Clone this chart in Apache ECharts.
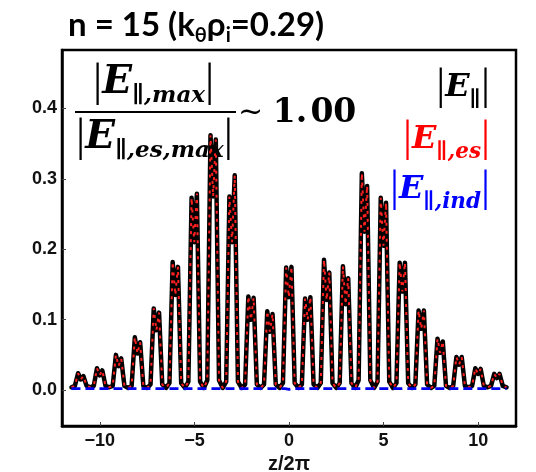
<!DOCTYPE html>
<html><head><meta charset="utf-8">
<script src="https://cdn.jsdelivr.net/npm/echarts@6/dist/echarts.min.js"></script>
<style>html,body{margin:0;padding:0;background:#fff}#c{width:536px;height:472px}</style>
</head><body><div id="c"></div>
<script>
// z/2π sample positions
const zs = [
 -11.5,-11.32,-11.15,-11.01,-10.87,-10.70,
 -10.5,-10.32,-10.15,-10.01,-9.87,-9.70,
 -9.5,-9.32,-9.15,-9.01,-8.87,-8.70,
 -8.5,-8.32,-8.15,-8.01,-7.87,-7.70,
 -7.5,-7.32,-7.15,-7.01,-6.87,-6.70,
 -6.5,-6.32,-6.15,-6.01,-5.87,-5.70,
 -5.5,-5.32,-5.15,-5.01,-4.87,-4.70,
 -4.5,-4.32,-4.15,-4.01,-3.87,-3.70,
 -3.5,-3.32,-3.15,-3.01,-2.87,-2.70,
 -2.5,-2.32,-2.15,-2.01,-1.87,-1.70,
 -1.5,-1.32,-1.15,-1.01,-0.87,-0.70,
 -0.5,-0.32,-0.15,-0.01,0.13,0.30,
 0.5,0.68,0.85,0.99,1.13,1.30,
 1.5,1.68,1.85,1.99,2.13,2.30,
 2.5,2.68,2.85,2.99,3.13,3.30,
 3.5,3.68,3.85,3.99,4.13,4.30,
 4.5,4.68,4.85,4.99,5.13,5.30,
 5.5,5.68,5.85,5.99,6.13,6.30,
 6.5,6.68,6.85,6.99,7.13,7.30,
 7.5,7.68,7.85,7.99,8.13,8.30,
 8.5,8.68,8.85,8.99,9.13,9.30,
 9.5,9.68,9.85,9.99,10.13,10.30,
 10.5,10.68,10.85,10.99,11.13,11.30,
 11.5
];
// |E_par|
const eTotal = [
 0.004,0.006,0.024,0.015,0.020,0.006,
 0.004,0.006,0.031,0.021,0.028,0.006,
 0.004,0.006,0.050,0.034,0.045,0.006,
 0.003,0.006,0.075,0.052,0.068,0.006,
 0.003,0.008,0.116,0.085,0.110,0.008,
 0.003,0.010,0.182,0.135,0.175,0.010,
 0.003,0.012,0.273,0.210,0.279,0.012,
 0.003,0.014,0.362,0.275,0.356,0.014,
 0.003,0.012,0.275,0.210,0.305,0.012,
 0.003,0.008,0.133,0.100,0.131,0.008,
 0.003,0.008,0.112,0.083,0.108,0.008,
 0.003,0.010,0.174,0.132,0.175,0.010,
 0.003,0.008,0.130,0.100,0.132,0.008,
 0.003,0.010,0.185,0.128,0.167,0.010,
 0.003,0.010,0.176,0.122,0.159,0.010,
 0.003,0.014,0.308,0.225,0.290,0.014,
 0.003,0.012,0.273,0.205,0.266,0.012,
 0.003,0.010,0.181,0.140,0.181,0.010,
 0.003,0.008,0.113,0.087,0.113,0.008,
 0.003,0.006,0.073,0.053,0.069,0.006,
 0.003,0.006,0.047,0.036,0.047,0.006,
 0.004,0.006,0.031,0.023,0.030,0.006,
 0.004,0.006,0.023,0.017,0.023,0.006,
 0.004
];
// |E_par,es| coincides with |E_par| (ratio ~ 1.00)
const eEs = eTotal;
// |E_par,ind| stays at ~0
const zInd = [-11.5, -0.2, 0, 0.2, 11.5];
const eInd = [0.002, 0.002, 0.001, 0.002, 0.002];

const xTicks = [-10, -5, 0, 5, 10];
const yTicks = [0, 0.1, 0.2, 0.3, 0.4];

const chart = echarts.init(document.getElementById('c'));
const SER = '"DejaVu Serif"';
const bar = {fontFamily:'"Liberation Serif"', fontSize:46, lineHeight:50, fill:'#000'};
const bigE = {fontFamily:SER, fontStyle:'italic', fontWeight:'bold', fontSize:39, lineHeight:50, fill:'#000'};
const subE = {fontFamily:SER, fontStyle:'italic', fontWeight:'bold', fontSize:23, lineHeight:28, verticalAlign:'bottom', fill:'#000'};
const lbar = {fontFamily:'"Liberation Serif"', fontSize:45, lineHeight:48};
const legE = {fontFamily:SER, fontStyle:'italic', fontWeight:'bold', fontSize:32, lineHeight:48};
const legS = {fontFamily:SER, fontStyle:'italic', fontWeight:'bold', fontSize:21.5, lineHeight:27, verticalAlign:'bottom'};
function legRich(c){
  return {b:Object.assign({}, lbar, {fill:c}), E:Object.assign({}, legE, {fill:c}), s:Object.assign({}, legS, {fill:c})};
}
const pair = (xs, ys) => xs.map((x, i) => [x, ys[i]]);

chart.setOption({
  animation: false,
  backgroundColor: '#fff',
  grid: {left: 62, right: 20, top: 50, bottom: 46, containLabel: false, outerBoundsMode: 'none',
         show: true, borderColor: '#000', borderWidth: 2.5, backgroundColor: 'transparent'},
  xAxis: {
    type: 'value', min: -12, max: 12,
    name: 'z/2π', nameLocation: 'middle', nameGap: 28,
    nameTextStyle: {fontFamily: '"Liberation Sans"', fontWeight: 'bold', fontSize: 20, color: '#111'},
    axisLine: {show: true, onZero: false, lineStyle: {color: '#000', width: 2.5}},
    axisTick: {show: true, inside: true, length: 4, lineStyle: {color: '#444', width: 1}, customValues: xTicks},
    axisLabel: {customValues: xTicks, margin: 6, fontFamily: '"Liberation Sans"', fontWeight: 'bold', fontSize: 18, color: '#111',
      formatter: v => v < 0 ? '\u2212' + Math.abs(v) : String(v)},
    splitLine: {show: false}
  },
  yAxis: {
    type: 'value', min: -0.051, max: 0.483,
    axisLine: {show: true, onZero: false, lineStyle: {color: '#000', width: 2.5}},
    axisTick: {show: true, inside: true, length: 4, lineStyle: {color: '#444', width: 1}, customValues: yTicks},
    axisLabel: {customValues: yTicks, margin: 5, fontFamily: '"Liberation Sans"', fontWeight: 'bold', fontSize: 18, color: '#111',
      formatter: v => v.toFixed(1)},
    splitLine: {show: false}
  },
  series: [
    {name: '|E∥|', type: 'line', data: pair(zs, eTotal), showSymbol: false, symbol: 'none',
     lineStyle: {color: '#000', width: 4.5, join: 'round', cap: 'round'}, z: 2},
    {name: '|E∥,es|', type: 'line', data: pair(zs, eEs), showSymbol: false, symbol: 'none',
     lineStyle: {color: '#ff2020', width: 2, type: [3, 5]}, z: 3},
    {name: '|E∥,ind|', type: 'line', data: pair(zInd, eInd), showSymbol: false, symbol: 'none',
     lineStyle: {color: '#0000ee', width: 2.8, type: [9, 5]}, z: 4}
  ],
  graphic: [
    {type: 'text', left: 68, top: 9, style: {
      text: '{m|n = 15 (k}{s|θ}{m|ρ}{s|i}{m|=0.29)}',
      rich: {m: {fontFamily: 'Lato', fontWeight: 'bold', fontSize: 33, lineHeight: 40, fill: '#000'},
             s: {fontFamily: 'Lato', fontWeight: 'bold', fontSize: 20, lineHeight: 22, verticalAlign: 'bottom', fill: '#000'}}}},
    {type: 'text', left: 93, top: 60, z: 10, style: {
      text: '{b||}{E|E}{s|∥,max}{b||}', rich: {b: bar, E: bigE, s: subE}}},
    {type: 'line', z: 10, shape: {x1: 75, y1: 112, x2: 236, y2: 112}, style: {stroke: '#000', lineWidth: 2}},
    {type: 'text', left: 76, top: 115, z: 10, style: {
      text: '{b||}{E|E}{s|∥,es,max}{b||}', rich: {b: bar, E: bigE, s: subE}}},
    {type: 'text', left: 238, top: 97, z: 10, style: {
      text: '{t|~ }{n|1.\u200A00}',
      rich: {t: {fontFamily: SER, fontSize: 30, lineHeight: 40, fill: '#000'},
             n: {fontFamily: SER, fontWeight: 'bold', fontSize: 33, lineHeight: 40, fill: '#000'}}}},
    {type: 'text', right: 46, top: 65, z: 10, style: {
      text: '{b||}{E|E}{s|∥}{b||}', rich: legRich('#000000')}},
    {type: 'text', right: 46, top: 117, z: 10, style: {
      text: '{b||}{E|E}{s|∥,es}{b||}', rich: legRich('#ff0000')}},
    {type: 'text', right: 46, top: 167, z: 10, style: {
      text: '{b||}{E|E}{s|∥,ind}{b||}', rich: legRich('#0000ff')}}
  ]
});
</script>
</body></html>
